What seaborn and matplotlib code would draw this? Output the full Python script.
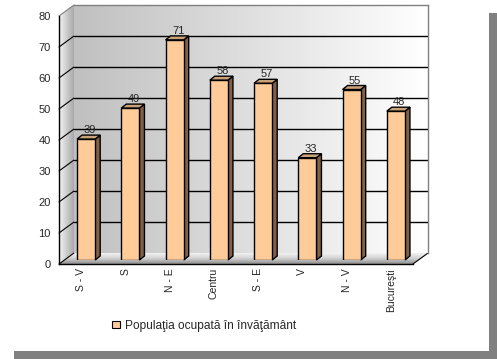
import numpy as np
import pandas as pd
import matplotlib
matplotlib.use("Agg")
import matplotlib.pyplot as plt
import seaborn as sns
from matplotlib.patches import Polygon, Rectangle, Patch
from matplotlib.transforms import IdentityTransform, offset_copy

# ---- data ----
regions = ["S - V", "S", "N - E", "Centru", "S - E", "V", "N - V", "Bucureşti"]
values = [39, 49, 71, 58, 57, 33, 55, 48]
series_name = "Populaţia ocupată în învăţământ"
y_ticks = [0, 10, 20, 30, 40, 50, 60, 70, 80]

sns.set_style("white")
plt.rcParams["font.family"] = ["Liberation Sans", "DejaVu Sans"]

W, H = 497, 359
fig = plt.figure(figsize=(W / 100, H / 100), dpi=100)
fig.patch.set_facecolor("white")

def rect(l, t, r, b):
    return [l / W, 1 - b / H, (r - l) / W, (b - t) / H]

# geometry (pixels)
FL, FR, FB, FT = 59, 413, 264, 16     # front plane
DX, DY = 15, 11                        # depth of the 3D box
BX, BY = 5, 4                          # offset of bar front face
SD, SU = 5, 4                          # bar side depth
FS = 7.5

# ---- background / walls ----
bg = fig.add_axes([0, 0, 1, 1], zorder=0)
bg.set_xlim(0, W); bg.set_ylim(H, 0); bg.axis("off")
bg.add_patch(Rectangle((489, 13), 8, H - 13, color="#808080", lw=0))
bg.add_patch(Rectangle((14, 351), W - 14, 8, color="#808080", lw=0))

# left wall
lw_poly = Polygon([(FL, FB), (FL, FT), (FL + DX, FT - DY), (FL + DX, FB - DY)],
                  closed=True, facecolor="none", edgecolor="none")
bg.add_patch(lw_poly)
grad = np.linspace(0, 1, 64)[None, :]
im = bg.imshow(grad, cmap=matplotlib.colors.LinearSegmentedColormap.from_list("lw", ["#f4f4f4", "#a8a8a8"]),
               extent=(FL, FL + DX, FB, FT - DY), aspect="auto", interpolation="bilinear")
im.set_clip_path(lw_poly)
# floor
fl_poly = Polygon([(FL, FB), (FR, FB), (FR + DX, FB - DY), (FL + DX, FB - DY)],
                  closed=True, facecolor="none", edgecolor="none")
bg.add_patch(fl_poly)
gradv = np.linspace(0, 1, 64)[:, None]
im2 = bg.imshow(gradv, cmap=matplotlib.colors.LinearSegmentedColormap.from_list("fl", ["#f2f2f2", "#d0d0d0", "#8c8c8c"]),
                extent=(FL, FR + DX, FB, FB - DY), origin="upper", aspect="auto", interpolation="bilinear")
im2.set_clip_path(fl_poly)
bg.set_xlim(0, W); bg.set_ylim(H, 0)

# ---- back wall ----
axb = fig.add_axes(rect(FL + DX, FT - DY, FR + DX, FB - DY), zorder=1)
axb.set_xlim(-0.5, 7.5); axb.set_ylim(0, 80)
axb.imshow(np.linspace(0, 1, 128)[None, :],
           cmap=matplotlib.colors.LinearSegmentedColormap.from_list("bw", ["#c0c0c0", "#ffffff"]),
           extent=(-0.5, 7.5, 0, 80), aspect="auto", interpolation="bilinear", zorder=0)
for v in y_ticks[1:-1]:
    axb.axhline(v, color="black", lw=1, zorder=1)
axb.set_xticks([]); axb.set_yticks([])
for s in ["left", "bottom"]:
    axb.spines[s].set_visible(False)
for s in ["top", "right"]:
    axb.spines[s].set_color("#808080"); axb.spines[s].set_linewidth(1)

# ---- bars ----
ax = fig.add_axes(rect(FL + BX, FT - BY, FR + BX, FB - BY), zorder=2)
df = pd.DataFrame({"Regiune": regions, "Valoare": values})
sns.barplot(data=df, x="Regiune", y="Valoare", color="#FFCC99", saturation=1,
            width=0.41, edgecolor="black", linewidth=1, ax=ax, zorder=3)
ax.set_xlim(-0.5, 7.5); ax.set_ylim(0, 80)
ax.axis("off")
ax.patch.set_visible(False)
for p in list(ax.patches):
    x0, w, h = p.get_x(), p.get_width(), p.get_height()
    (xl, yb) = ax.transData.transform((x0, 0))
    (xr, yt) = ax.transData.transform((x0 + w, h))
    side = Polygon([(xr, yb), (xr, yt), (xr + SD, yt + SU), (xr + SD, yb + SU)], closed=True,
                   facecolor="#806048", edgecolor="black", lw=1, transform=IdentityTransform(),
                   clip_on=False, zorder=2)
    top = Polygon([(xl, yt), (xr, yt), (xr + SD, yt + SU), (xl + SD, yt + SU)], closed=True,
                  facecolor="#C9A27A", edgecolor="black", lw=1, transform=IdentityTransform(),
                  clip_on=False, zorder=2)
    ax.add_patch(side); ax.add_patch(top)

tr = offset_copy(ax.transData, fig=fig, x=3.5, y=6, units="dots")
for i, v in enumerate(values):
    ax.text(i, v, str(v), transform=tr, ha="center", va="baseline", fontsize=8)

# diagonal lines on left wall and floor edge
for v in y_ticks:
    yf = FB - v * (FB - FT) / 80
    bg.plot([FL, FL + DX], [yf, yf - DY], color="black" if v < 80 else "#808080", lw=0.8)
bg.plot([FR, FR + DX], [FB, FB - DY], color="black", lw=0.8)

# ---- front axis ----
axf = fig.add_axes(rect(FL, FT, FR, FB), zorder=3)
axf.patch.set_visible(False)
axf.set_xlim(-0.5, 7.5); axf.set_ylim(0, 80)
axf.set_yticks(y_ticks)
axf.set_yticklabels([str(v) for v in y_ticks], fontsize=8)
axf.set_xticks(np.arange(-0.5, 8, 1))
axf.set_xticklabels([""] * 9)
axf.set_xticks(np.arange(8), minor=True)
axf.set_xticklabels(regions, minor=True, rotation=90, fontsize=FS)
axf.tick_params(axis="x", which="major", length=4, width=1, direction="out", color="black")
axf.tick_params(axis="x", which="minor", length=0, pad=3)
axf.tick_params(axis="y", length=3, width=1, direction="out", pad=3, color="black")
for s in ["top", "right"]:
    axf.spines[s].set_visible(False)
for s in ["left", "bottom"]:
    axf.spines[s].set_color("black"); axf.spines[s].set_linewidth(1)

# ---- legend ----
handles = [Patch(facecolor="#FFCC99", edgecolor="black", lw=0.8, label=series_name)]
fig.legend(handles=handles, loc="center left", bbox_to_anchor=(112 / W, 1 - 326 / H),
           frameon=False, fontsize=8.6, handlelength=0.65, handleheight=0.5,
           handletextpad=0.4, borderpad=0, borderaxespad=0)

fig.savefig("out.png", dpi=100)
